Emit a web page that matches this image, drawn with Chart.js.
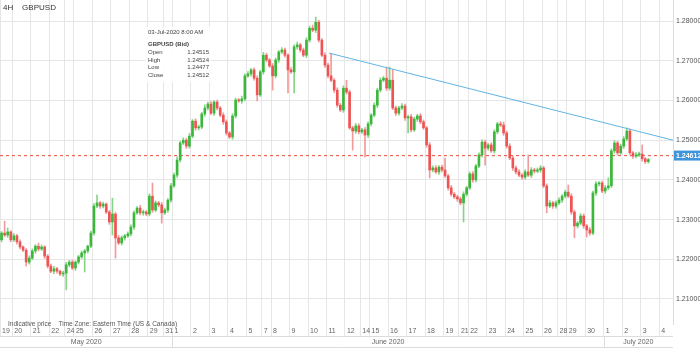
<!DOCTYPE html>
<html>
<head>
<meta charset="utf-8">
<script src="https://cdn.jsdelivr.net/npm/chart.js@4.4.1/dist/chart.umd.min.js"></script>
<style>
  body { margin: 0; background: #fff; font-family: "Liberation Sans", Arial, sans-serif; }
  #wrap { position: relative; width: 700px; height: 352px; overflow: hidden; }
  #wrap canvas { position: absolute; left: 0; top: 0; }
  .hdr { position: absolute; left: 3px; top: 3px; font-size: 8px; color: #333; white-space: pre; }
  .note { position: absolute; left: 8px; top: 320px; font-size: 6.5px; color: #555; white-space: pre; }
  #info { position: absolute; left: 145px; top: 27px; width: 61px; padding: 2px 2px 3px 3px;
          background: rgba(255,255,255,0.9); font-size: 6px; color: #444; line-height: 7.5px; }
  #info .b { font-weight: bold; margin-top: 4px; margin-bottom: 1px; }
  #info table { border-collapse: collapse; width: 100%; }
  #info td { padding: 0; line-height: 7.5px; }
  #info td + td { text-align: right; }
</style>
</head>
<body>
<div id="wrap">
  <canvas id="chart" width="700" height="352"></canvas>
  <div class="hdr">4H    GBPUSD</div>
  <div class="note">Indicative price    Time Zone: Eastern Time (US &amp; Canada)</div>
  <div id="info">
    <div>03-Jul-2020 8:00 AM</div>
    <div class="b">GBPUSD (Bid)</div>
    <table>
      <tr><td>Open</td><td>1.24515</td></tr>
      <tr><td>High</td><td>1.24524</td></tr>
      <tr><td>Low</td><td>1.24477</td></tr>
      <tr><td>Close</td><td>1.24512</td></tr>
    </table>
  </div>
</div>
<script>
// 4H bars, GBPUSD bid. open of each bar = close of the bar before it
const firstOpen = 1.2249;
const closes = [
  1.2266, 1.2261, 1.2269, 1.2249, 1.2259, 1.2244, 1.2231, 1.2223, 1.2193, 1.2203,
  1.2221, 1.2233, 1.2226, 1.2231, 1.2208, 1.2183, 1.2170, 1.2176, 1.2170, 1.2163,
  1.2165, 1.2186, 1.2193, 1.2178, 1.2193, 1.2206, 1.2216, 1.2221, 1.2233, 1.2266,
  1.2334, 1.2342, 1.2334, 1.2339, 1.2319, 1.2294, 1.2314, 1.2254, 1.2241, 1.2254,
  1.2259, 1.2264, 1.2281, 1.2317, 1.2329, 1.2317, 1.2319, 1.2314, 1.2359, 1.2324,
  1.2342, 1.2337, 1.2317, 1.2324, 1.2349, 1.2385, 1.2412, 1.2450, 1.2493, 1.2500,
  1.2485, 1.2510, 1.2548, 1.2531, 1.2533, 1.2566, 1.2581, 1.2591, 1.2568, 1.2596,
  1.2581, 1.2563, 1.2546, 1.2518, 1.2508, 1.2561, 1.2601, 1.2599, 1.2604, 1.2662,
  1.2667, 1.2677, 1.2656, 1.2614, 1.2672, 1.2714, 1.2702, 1.2687, 1.2662, 1.2702,
  1.2722, 1.2727, 1.2714, 1.2677, 1.2672, 1.2735, 1.2740, 1.2727, 1.2714, 1.2752,
  1.2782, 1.2777, 1.2797, 1.2752, 1.2714, 1.2689, 1.2662, 1.2651, 1.2626, 1.2588,
  1.2576, 1.2631, 1.2621, 1.2531, 1.2523, 1.2536, 1.2521, 1.2526, 1.2513, 1.2541,
  1.2563, 1.2588, 1.2626, 1.2651, 1.2656, 1.2631, 1.2651, 1.2581, 1.2568, 1.2581,
  1.2586, 1.2556, 1.2559, 1.2526, 1.2553, 1.2561, 1.2546, 1.2531, 1.2488, 1.2425,
  1.2430, 1.2420, 1.2432, 1.2425, 1.2410, 1.2380, 1.2364, 1.2357, 1.2352, 1.2342,
  1.2364, 1.2380, 1.2415, 1.2400, 1.2435, 1.2463, 1.2495, 1.2480, 1.2488, 1.2473,
  1.2521, 1.2541, 1.2538, 1.2518, 1.2485, 1.2455, 1.2430, 1.2420, 1.2412, 1.2407,
  1.2420, 1.2412, 1.2425, 1.2422, 1.2425, 1.2430, 1.2385, 1.2334, 1.2342, 1.2334,
  1.2342, 1.2349, 1.2359, 1.2369, 1.2359, 1.2319, 1.2284, 1.2291, 1.2309, 1.2284,
  1.2274, 1.2266, 1.2367, 1.2390, 1.2392, 1.2372, 1.2380, 1.2385, 1.2473, 1.2493,
  1.2468, 1.2485, 1.2503, 1.2523, 1.2468, 1.2460, 1.2463, 1.2465, 1.2453, 1.2446, 1.2451
];
// wick lengths in pips above the body top / below the body bottom
const upperWick = [
  4, 30, 10, 3, 6, 4, 5, 3, 4, 6,   5, 4, 8, 5, 3, 4, 5, 6, 4, 3,
  5, 6, 4, 5, 3, 4, 5, 4, 3, 5,     6, 20, 4, 5, 3, 4, 40, 4, 6, 5,
  4, 5, 6, 5, 4, 7, 5, 4, 6, 33,    5, 4, 6, 5, 4, 6, 5, 8, 4, 6,
  5, 7, 4, 6, 5, 4, 8, 5, 6, 4,     5, 4, 6, 5, 4, 6, 5, 4, 7, 5,
  6, 4, 5, 6, 4, 7, 5, 4, 6, 5,     4, 6, 5, 4, 6, 5, 7, 4, 5, 6,
  5, 8, 13, 5, 4, 6, 5, 57, 4, 6,   5, 6, 20, 5, 4, 6, 5, 4, 6, 5,
  4, 6, 5, 6, 5, 28, 33, 26, 5, 4,  6, 5, 4, 6, 5, 4, 6, 5, 4, 6,
  5, 6, 4, 5, 30, 4, 6, 5, 4, 5,    6, 4, 5, 6, 4, 5, 6, 5, 4, 6,
  5, 4, 6, 8, 5, 6, 4, 5, 6, 4,     5, 43, 6, 4, 5, 6, 4, 5, 6, 4,
  5, 6, 4, 5, 18, 6, 5, 4, 6, 5,    4, 6, 5, 6, 4, 5, 6, 20, 5, 6,
  4, 5, 6, 8, 5, 4, 6, 5, 23, 4, 3
];
const lowerWick = [
  5, 4, 6, 5, 4, 6, 5, 4, 10, 5,    4, 6, 5, 4, 6, 5, 4, 6, 5, 4,
  6, 42, 5, 4, 6, 5, 4, 48, 5, 4,   5, 4, 6, 5, 4, 6, 33, 51, 4, 5,
  6, 4, 5, 6, 4, 5, 6, 4, 5, 6,     4, 5, 26, 4, 6, 5, 4, 6, 5, 4,
  6, 5, 4, 6, 5, 4, 6, 5, 4, 6,     5, 4, 6, 5, 4, 6, 5, 4, 6, 5,
  4, 6, 5, 15, 4, 6, 5, 4, 36, 5,   6, 4, 5, 58, 4, 53, 6, 5, 4, 6,
  5, 4, 6, 5, 4, 6, 5, 4, 6, 5,     4, 6, 5, 4, 48, 6, 5, 4, 55, 6,
  5, 4, 6, 5, 4, 6, 5, 4, 6, 5,     4, 6, 38, 5, 4, 6, 5, 4, 6, 20,
  5, 4, 6, 5, 4, 6, 5, 4, 6, 5,     48, 5, 4, 6, 5, 4, 6, 43, 5, 4,
  6, 5, 4, 6, 5, 4, 6, 5, 4, 6,     5, 4, 6, 5, 4, 6, 5, 17, 4, 6,
  5, 4, 6, 5, 4, 6, 30, 5, 4, 6,    18, 5, 4, 6, 5, 4, 6, 5, 4, 6,
  5, 4, 6, 5, 4, 6, 5, 4, 6, 5, 4
];

// days on the time axis and how many 4H slots each one takes
const dayLabels = ['19','20','21','22','24','25','26','27','28','29','31',
  '1','2','3','4','5','7','8','9','10','11','12','14','15','16','17','18','19',
  '21','22','23','24','25','26','28','29','30','1','2','3','4'];
const dayBars = [4,6,6,5,3,6,6,6,6,5,3, 6,6,6,6,5,3,6,6,6,6,5,3,6,6,6,6,5,3,6,6,6,6,5,3,6,6, 6,6,6,6];
const months = ['May 2020', 'June 2020', 'July 2020'];
const monthFirstDay = [0, 11, 37];

const priceTicks = [1.21, 1.22, 1.23, 1.24, 1.25, 1.26, 1.27, 1.28];
const lastPrice = 1.24612;
const trendX = [106.8, 218.5];
const trendY = [1.27194, 1.2500];

const green = '#3bb83b', red = '#ef5454';
const greenWick = '#86d486', redWick = '#f39a9a';

let opens = [], highs = [], lows = [];
for (let i = 0; i < closes.length; i++) {
  let o = i === 0 ? firstOpen : closes[i - 1];
  opens.push(o);
  highs.push(Math.max(o, closes[i]) + upperWick[i] / 10000);
  lows.push(Math.min(o, closes[i]) - lowerWick[i] / 10000);
}

let dayStarts = [];
let pos = 0;
for (let d = 0; d < dayBars.length; d++) {
  dayStarts.push(pos);
  pos += dayBars[d];
}

const axisEnd = 218.5;

const extras = {
  id: 'extras',
  afterDraw(chart) {
    const ctx = chart.ctx;
    const x = chart.scales.x, y = chart.scales.y;
    const area = chart.chartArea;
    const row1 = area.bottom + 12.5, row2 = area.bottom + 23.5;
    ctx.save();
    ctx.strokeStyle = '#dcdcdc';
    ctx.lineWidth = 1;
    ctx.beginPath();
    ctx.moveTo(area.left, row1); ctx.lineTo(area.right, row1);
    ctx.moveTo(area.left, row2); ctx.lineTo(area.right, row2);
    ctx.stroke();

    ctx.font = '7px "Liberation Sans", Arial, sans-serif';
    ctx.fillStyle = '#666';
    ctx.textAlign = 'center';
    ctx.textBaseline = 'middle';
    for (let k = 0; k < months.length; k++) {
      let a = dayStarts[monthFirstDay[k]];
      let b = k + 1 < months.length ? dayStarts[monthFirstDay[k + 1]] : x.max;
      ctx.fillText(months[k], x.getPixelForValue((a + b) / 2), row1 + 5.5);
      if (k > 0) {
        let px = Math.round(x.getPixelForValue(a)) + 0.5;
        ctx.beginPath();
        ctx.moveTo(px, row1); ctx.lineTo(px, row2);
        ctx.stroke();
      }
    }

    // last price tag on the price axis
    let py = y.getPixelForValue(lastPrice);
    ctx.fillStyle = '#3f95dc';
    ctx.fillRect(area.right + 1, py - 5, 27, 10);
    ctx.fillStyle = '#fff';
    ctx.font = 'bold 7px "Liberation Sans", Arial, sans-serif';
    ctx.textAlign = 'left';
    ctx.fillText(lastPrice.toFixed(5), area.right + 3, py + 0.5);
    ctx.restore();
  }
};

Chart.defaults.font.family = '"Liberation Sans", Arial, sans-serif';

new Chart('chart', {
  type: 'bar',
  data: {
    datasets: [{
      label: 'trend',
      type: 'line',
      data: trendX.map((v, i) => ({ x: v, y: trendY[i] })),
      borderColor: '#62b4e2',
      borderWidth: 1,
      pointRadius: 0,
      order: 0
    },
    {
      label: 'last',
      type: 'line',
      data: [{ x: 0, y: lastPrice }, { x: axisEnd, y: lastPrice }],
      borderColor: '#ec6357',
      borderWidth: 1.2,
      borderDash: [3, 3],
      pointRadius: 0,
      order: 3
    },
    {
      label: 'body',
      data: closes.map((c, i) => ({ x: i + 0.5, y: [opens[i], c] })),
      backgroundColor: closes.map((c, i) => c >= opens[i] ? green : red),
      barThickness: 2,
      minBarLength: 1,
      grouped: false,
      order: 1
    },
    {
      label: 'wick',
      data: closes.map((c, i) => ({ x: i + 0.5, y: [lows[i], highs[i]] })),
      backgroundColor: closes.map((c, i) => c >= opens[i] ? greenWick : redWick),
      barThickness: 1,
      grouped: false,
      order: 2
    }]
  },
  options: {
    responsive: false,
    animation: false,
    events: [],
    layout: { padding: 0, autoPadding: false },
    plugins: { legend: { display: false }, tooltip: { enabled: false } },
    scales: {
      x: {
        type: 'linear',
        min: 0,
        max: axisEnd,
        offset: false,
        afterBuildTicks: s => { s.ticks = dayStarts.map(v => ({ value: v })); },
        afterFit: s => { s.height = 28; s.paddingLeft = 0; s.paddingRight = 0; },
        ticks: {
          autoSkip: false,
          maxRotation: 0,
          align: 'start',
          labelOffset: 2,
          padding: -9,
          color: '#666',
          font: { size: 7 },
          callback: (v, i) => dayLabels[i]
        },
        grid: { offset: false, color: '#e6e6e6', tickLength: 12, tickColor: '#e6e6e6' },
        border: { display: false }
      },
      y: {
        position: 'right',
        min: 1.2037,
        max: 1.2853,
        afterBuildTicks: s => { s.ticks = priceTicks.map(v => ({ value: v })); },
        afterFit: s => { s.width = 27; s.paddingTop = 0; s.paddingBottom = 0; },
        ticks: {
          color: '#555',
          padding: 3,
          font: { size: 7 },
          callback: v => v.toFixed(5)
        },
        grid: { color: '#e6e6e6', drawTicks: false },
        border: { color: '#dcdcdc' }
      }
    }
  },
  plugins: [extras]
});
</script>
</body>
</html>
